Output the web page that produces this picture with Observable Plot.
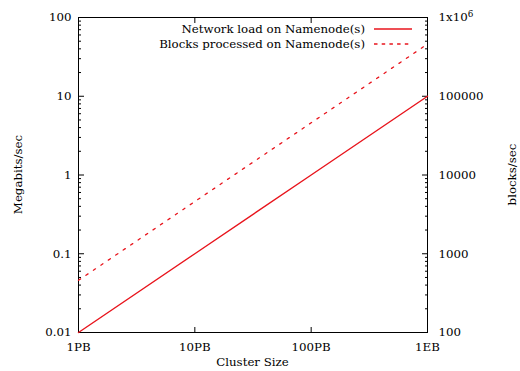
<!DOCTYPE html>
<html><head><meta charset="utf-8">
<script src="https://cdn.jsdelivr.net/npm/d3@7"></script>
<script src="https://cdn.jsdelivr.net/npm/@observablehq/plot@0.6"></script>
<style>body{margin:0;background:#fff} svg{font-family:"DejaVu Serif",serif}</style>
</head><body><div id="chart"></div>
<script>
const clusterSizePB = [1, 10, 100, 1000];
const xTickLabels = ["1PB", "10PB", "100PB", "1EB"];
const networkLoad = [0.01, 0.1, 1, 10];          // Megabits/sec (left axis)
const blocksProcessed = [460, 4600, 46000, 460000]; // blocks/sec (right axis)
const leftTicks = [0.01, 0.1, 1, 10, 100];
const rightTicks = [100, 1000, 10000, 100000, 1000000];
const rightTickLabels = ["100", "1000", "10000", "100000", "1x10^6"];
const seriesNames = ["Network load on Namenode(s)", "Blocks processed on Namenode(s)"];
const axisTitles = {x: "Cluster Size", left: "Megabits/sec", right: "blocks/sec"};
const RATIO = 1e4; // right = left * RATIO

const net = clusterSizePB.map((x, i) => ({x, y: networkLoad[i]}));
const blk = clusterSizePB.map((x, i) => ({x, y: blocksProcessed[i] / RATIO}));

const minor = [];
for (let d = 0.01; d < 100; d *= 10) for (let m = 2; m <= 9; m++) minor.push(+(d * m).toPrecision(3));

const FS = 11.8;
const red = "#e8141c";
const W = 520, H = 371, mL = 78, mR = 93, mT = 17, mB = 39;
const chart = Plot.plot({
  width: W, height: H,
  marginLeft: mL, marginRight: mR, marginTop: mT, marginBottom: mB,
  style: {fontFamily: "DejaVu Serif, serif", fontSize: FS + "px", color: "#000"},
  x: {type: "log", domain: [1, 1000]},
  y: {type: "log", domain: [0.01, 100]},
  marks: [
    Plot.frame({stroke: "#000", strokeWidth: 1}),
    Plot.axisX({ticks: clusterSizePB, tickSize: 0, tickPadding: 10, tickFormat: d => xTickLabels[clusterSizePB.indexOf(d)], label: null}),
    Plot.axisX({ticks: clusterSizePB.slice(1, -1), tickSize: -5, tickFormat: () => "", label: null}),
    Plot.axisX({anchor: "top", ticks: clusterSizePB.slice(1, -1), tickSize: -5, tickFormat: () => "", label: null}),
    Plot.axisY({ticks: leftTicks, tickSize: 0, tickPadding: 7, tickFormat: d => String(d), label: null}),
    Plot.axisY({ticks: leftTicks, tickSize: -6, tickFormat: () => "", label: null}),
    Plot.axisY({ticks: minor, tickSize: -3, tickFormat: () => "", label: null}),
    Plot.axisY({anchor: "right", ticks: leftTicks, tickSize: 0, tickPadding: 11, tickFormat: d => rightTickLabels[rightTicks.indexOf(Math.round(d * RATIO))], label: null}),
    Plot.axisY({anchor: "right", ticks: leftTicks, tickSize: -6, tickFormat: () => "", label: null}),
    Plot.axisY({anchor: "right", ticks: minor, tickSize: -3, tickFormat: () => "", label: null}),
    Plot.line(net, {x: "x", y: "y", stroke: red, strokeWidth: 1.4}),
    Plot.line(blk, {x: "x", y: "y", stroke: red, strokeWidth: 1.3, strokeDasharray: "2.5,6.5"})
  ]
});
document.getElementById("chart").append(chart);

const svg = d3.select(chart);
// superscript exponent in tick label
svg.selectAll("text").each(function () {
  const t = d3.select(this);
  const s = t.text();
  if (s.includes("^")) {
    const [base, exp] = s.split("^");
    const tspan = t.select("tspan").empty() ? t : t.select("tspan");
    tspan.text(base);
    tspan.append("tspan").attr("dy", "-0.45em").attr("font-size", "0.75em").text(exp);
  }
});
const g = svg.append("g").attr("font-size", FS).attr("font-family", "DejaVu Serif, serif").attr("fill", "#000");
// axis titles
g.append("text").attr("x", (mL + W - mR) / 2).attr("y", 366).attr("text-anchor", "middle").text(axisTitles.x);
g.append("text").attr("transform", `translate(18,${(mT + H - mB) / 2}) rotate(-90)`).attr("text-anchor", "middle").attr("dy", "0.35em").text(axisTitles.left);
g.append("text").attr("transform", `translate(512,${(mT + H - mB) / 2}) rotate(-90)`).attr("text-anchor", "middle").attr("dy", "0.35em").text(axisTitles.right);
// legend
seriesNames.forEach((name, i) => {
  const y = 29 + i * 15;
  g.append("text").attr("x", 365).attr("y", y).attr("dy", "0.35em").attr("text-anchor", "end").text(name);
  g.append("line").attr("x1", 374).attr("x2", 412).attr("y1", y).attr("y2", y)
    .attr("stroke", red).attr("stroke-width", i ? 1.3 : 1.4).attr("stroke-dasharray", i ? "3.5,4.2" : null);
});
</script></body></html>
